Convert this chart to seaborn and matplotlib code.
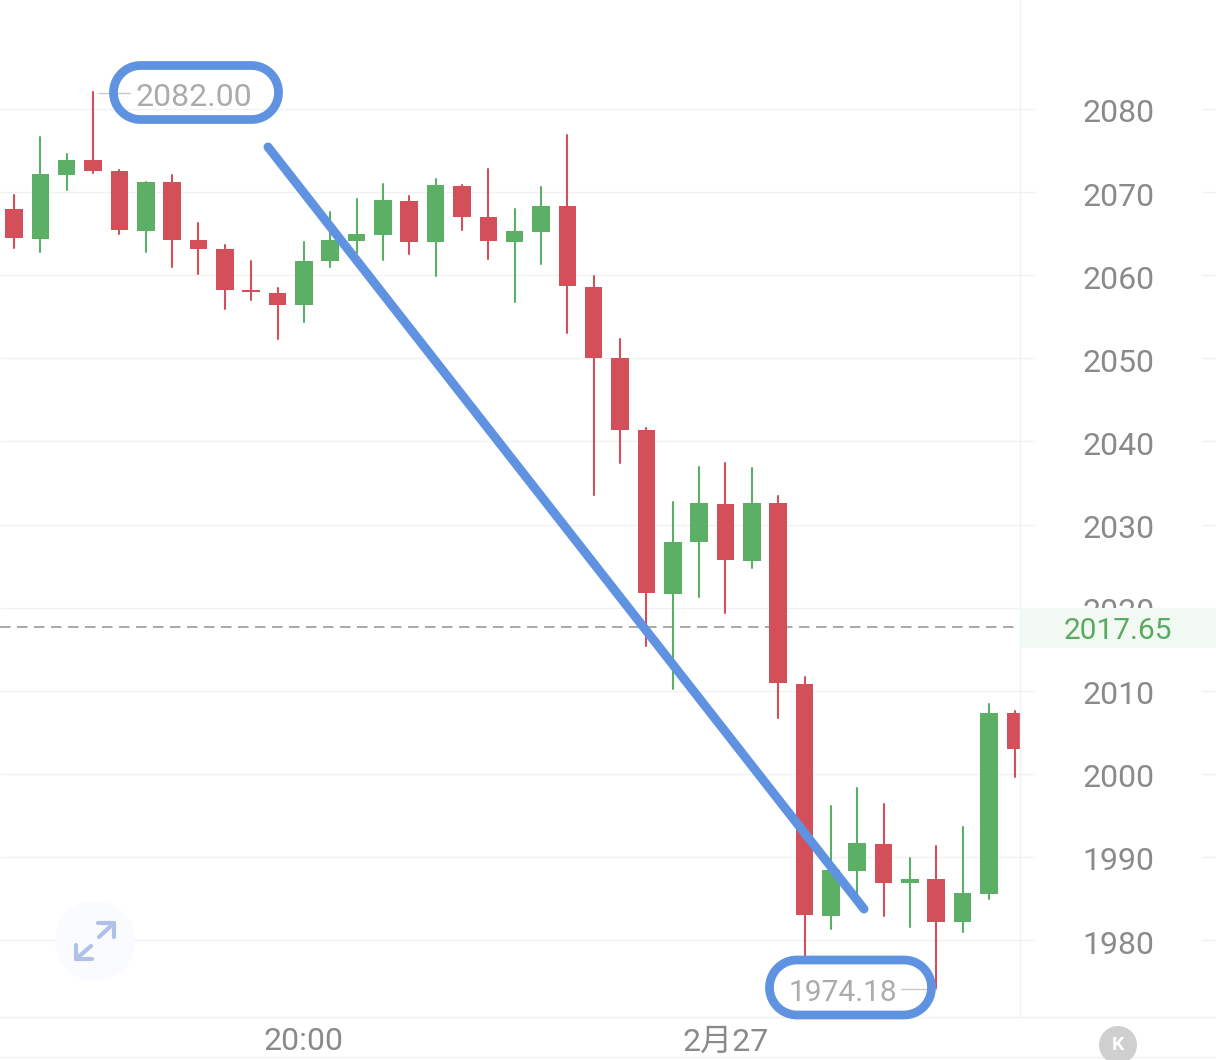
import matplotlib
matplotlib.use('Agg')
import matplotlib.pyplot as plt
import numpy as np
import pandas as pd
import seaborn as sns
from matplotlib.patches import Circle, Polygon, Rectangle
from matplotlib.transforms import ScaledTranslation

# Candle values, one entry per candle
highs = [2069.65, 2076.59, 2074.55, 2082.00, 2072.62, 2071.25, 2072.06, 2066.25, 2063.60, 2061.71,
         2058.46, 2064.03, 2067.64, 2069.13, 2070.94, 2069.53, 2071.58, 2070.89, 2072.82, 2067.97,
         2070.61, 2076.91, 2059.90, 2052.29, 2041.58, 2032.67, 2036.96, 2037.36, 2036.76, 2033.43,
         2011.68, 1996.13, 1998.25, 1996.33, 1989.87, 1991.31, 1993.63, 2008.44, 2007.59]
lows = [2063.24, 2062.76, 2070.25, 2072.26, 2065.00, 2062.76, 2060.95, 2060.14, 2055.97, 2057.05,
        2052.29, 2054.33, 2060.95, 2062.64, 2061.83, 2062.52, 2059.94, 2065.48, 2061.99, 2056.81,
        2061.38, 2053.01, 2033.55, 2037.36, 2015.42, 2010.17, 2021.31, 2019.31, 2024.77, 2006.68,
        1977.83, 1981.29, 1985.42, 1982.92, 1981.53, 1974.18, 1981.00, 1984.93, 1999.65]
body_tops = [2067.97, 2072.14, 2073.86, 2073.86, 2072.58, 2071.25, 2071.22, 2064.20, 2063.12, 2058.22,
             2057.89, 2061.71, 2064.24, 2064.92, 2069.01, 2068.93, 2070.82, 2070.73, 2067.04, 2065.28,
             2068.36, 2068.33, 2058.62, 2050.04, 2041.34, 2027.89, 2032.55, 2032.50, 2032.59, 2032.55,
             2010.84, 1988.42, 1991.64, 1991.55, 1987.34, 1987.30, 1985.66, 2007.32, 2007.28]
body_bottoms = [2064.44, 2064.36, 2072.06, 2072.58, 2065.40, 2065.32, 2064.24, 2063.15, 2058.26, 2058.01,
                2056.45, 2056.41, 2061.67, 2064.15, 2064.84, 2064.03, 2063.96, 2067.04, 2064.08, 2064.03,
                2065.20, 2058.70, 2050.07, 2041.37, 2021.76, 2021.67, 2027.86, 2025.73, 2025.64, 2010.93,
                1983.01, 1982.92, 1988.34, 1986.90, 1986.82, 1982.20, 1982.13, 1985.57, 2003.02]
directions = ['down', 'up', 'up', 'down', 'down', 'up', 'down', 'down', 'down', 'down',
              'down', 'up', 'up', 'up', 'up', 'down', 'up', 'down', 'down', 'up',
              'up', 'down', 'down', 'down', 'down', 'up', 'up', 'down', 'up', 'down',
              'down', 'up', 'up', 'down', 'up', 'down', 'up', 'up', 'down']
price_ticks = [1980, 1990, 2000, 2010, 2020, 2030, 2040, 2050, 2060, 2070, 2080]
time_ticks = [11, 27]
time_labels = ['20:00', '2月27']
last_price = 2017.65

RED = '#D3505A'
GREEN = '#5BB065'
BLUE = '#6092E2'
GRID = '#F1F1F1'
FIG_W, FIG_H = 1216, 1060
AX_W, AX_BOTTOM = 1020, 1017


def pill(x0, y0, w, h):
    # stadium outline, true half circles at both ends
    r = h / 2
    t = np.linspace(-np.pi / 2, np.pi / 2, 40)
    right = np.column_stack([x0 + w - r + r * np.cos(t), y0 + r + r * np.sin(t)])
    left = np.column_stack([x0 + r - r * np.cos(t), y0 + r - r * np.sin(t)])
    return np.vstack([right, left])


sns.set_theme(style='white')
plt.rcParams['font.family'] = ['Roboto', 'Noto Sans CJK SC', 'DejaVu Sans']

df = pd.DataFrame({'i': range(len(highs)), 'high': highs, 'low': lows, 'top': body_tops,
                   'bottom': body_bottoms, 'direction': directions})
df['height'] = df['top'] - df['bottom']
wicks = df.melt(id_vars=['i', 'direction'], value_vars=['low', 'high'], value_name='price')

fig = plt.figure(figsize=(FIG_W / 100, FIG_H / 100), dpi=100)
ax = fig.add_axes([0, 1 - AX_BOTTOM / FIG_H, AX_W / FIG_W, AX_BOTTOM / FIG_H])

# grid runs a little past the plot and comes back at the right edge
trans = ax.get_yaxis_transform()
ax.hlines(price_ticks, 0, 1035 / AX_W, transform=trans, color=GRID, lw=1, clip_on=False, zorder=0.5)
ax.hlines(price_ticks, 1202 / AX_W, FIG_W / AX_W, transform=trans, color=GRID, lw=1, clip_on=False, zorder=0.5)
ax.hlines(last_price, 0, 1015 / AX_W, transform=trans, color='#ABABAB', lw=1.44,
          linestyle=(0, (5.25, 3.25)), zorder=1)

sns.lineplot(data=wicks, x='i', y='price', units='i', estimator=None, hue='direction',
             palette={'up': GREEN, 'down': RED}, lw=1.5, legend=False, ax=ax, zorder=1.9)
for direction, colour in [('up', GREEN), ('down', RED)]:
    part = df[df['direction'] == direction]
    sns.barplot(data=part, x='i', y='height', bottom=part['bottom'].values, native_scale=True,
                orient='x', color=colour, saturation=1, width=0.665, errorbar=None, linewidth=0,
                zorder=2, ax=ax)

ax.set_xlim(-14 / 26.35, (AX_W - 14) / 26.35)
ax.set_ylim(2080 - (AX_BOTTOM - 109) / 8.31, 2080 + 109 / 8.31)
ax.set(xlabel='', ylabel='')
ax.patch.set_alpha(0)
sns.despine(ax=ax, left=True, bottom=True)

ax.set_xticks(time_ticks, time_labels)
ax.yaxis.tick_right()
ax.set_yticks(price_ticks, [str(p) for p in price_ticks])
ax.tick_params(axis='x', length=0, pad=7.5, labelsize=23, labelcolor='#8A8A8A')
ax.tick_params(axis='y', length=0, pad=71, labelsize=23, labelcolor='#8A8A8A')
nudge = ScaledTranslation(0, -2 / 100, fig.dpi_scale_trans)
for label in ax.get_yticklabels():
    label.set_horizontalalignment('center')
    label.set_transform(label.get_transform() + nudge)

# overlay in picture pixels for the hand drawn marks and app furniture
over = fig.add_axes([0, 0, 1, 1], zorder=5)
over.set_xlim(0, FIG_W)
over.set_ylim(FIG_H, 0)
over.axis('off')

over.plot([AX_W, AX_W], [0, AX_BOTTOM], color=GRID, lw=1, zorder=1)
over.plot([0, FIG_W], [AX_BOTTOM, AX_BOTTOM], color='#EFEFEF', lw=1, zorder=1)
over.plot([0, FIG_W], [1057, 1057], color='#F3F3F3', lw=1, zorder=1)

over.add_patch(Rectangle((AX_W, 608), FIG_W - AX_W, 40, color='#F1F9F2', lw=0, zorder=2))
over.text(1118, 631, f'{last_price:.2f}', color='#5BAA62', fontsize=21.5, ha='center', va='center', zorder=3)

# high / low labels
over.plot([99, 130], [93, 93], color='#C8C8C8', lw=1, zorder=3)
over.text(193.5, 97, f'{max(highs):.2f}', color='#ABABAB', fontsize=23, ha='center', va='center', zorder=3)
over.plot([901, 936], [989, 989], color='#C8C8C8', lw=1, zorder=3)
over.text(842.5, 993, f'{min(lows):.2f}', color='#ABABAB', fontsize=21.5, ha='center', va='center', zorder=3)

# blue marker pen
for x0, y0, w, h in [(113.5, 65.5, 165, 54), (769.5, 960, 162, 55)]:
    over.add_patch(Polygon(pill(x0, y0, w, h), closed=True, fc='none', ec=BLUE, lw=6.3, zorder=4))
over.plot([268, 864], [147, 909], color=BLUE, lw=6.5, solid_capstyle='round', zorder=4)

# expand icon
over.add_patch(Circle((95, 941), 40, color='#FAFBFE', lw=0, zorder=0.5))
icon_kw = dict(color='#AFC1E8', lw=3, solid_capstyle='round', solid_joinstyle='round', zorder=2)
over.plot([99, 114], [937, 923], **icon_kw)
over.plot([98, 114, 114], [923, 923, 937], **icon_kw)
over.plot([91, 76], [946, 959], **icon_kw)
over.plot([76, 76, 92], [945, 959, 959], **icon_kw)

# K button
over.add_patch(Circle((1118, 1045), 19, color='#CFCFCF', lw=0, zorder=2))
over.text(1118, 1045, 'K', color='white', fontsize=14, fontweight='bold', ha='center', va='center', zorder=3)

fig.savefig('out.png', dpi=100)
